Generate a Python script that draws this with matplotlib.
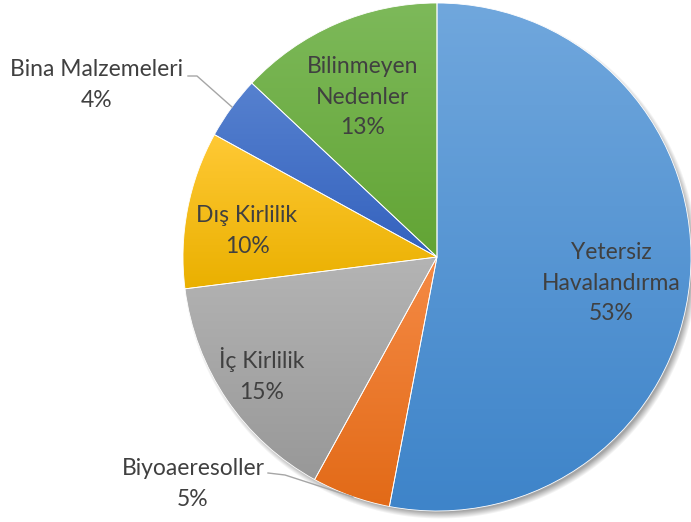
import numpy as np
import matplotlib
matplotlib.use("Agg")
import matplotlib.pyplot as plt
from matplotlib.colors import to_rgb

# ---- data ----
categories = ["Yetersiz Havalandırma", "Biyoaeresoller", "İç Kirlilik",
              "Dış Kirlilik", "Bina Malzemeleri", "Bilinmeyen Nedenler"]
values = [53, 5, 15, 10, 4, 13]
display_labels = ["Yetersiz\nHavalandırma", "Biyoaeresoller", "İç Kirlilik",
                  "Dış Kirlilik", "Bina Malzemeleri", "Bilinmeyen\nNedenler"]

# ---- style ----
top_colors = ["#70A7DD", "#F58A45", "#B4B4B4", "#FFC935", "#5681CF", "#7DB95A"]
bot_colors = ["#3E84C9", "#E26A17", "#989898", "#EAB000", "#3462BE", "#62A434"]
label_pos = [(611, 283), (193, 484), (262, 375), (247, 231), (97, 85), (363, 97)]
W, H = 691, 522
cx, cy, R = 437, 522 - 257, 254

fig = plt.figure(figsize=(W / 100, H / 100), dpi=100)
ax = fig.add_axes([0, 0, 1, 1])
ax.set_xlim(0, W)
ax.set_ylim(0, H)
ax.set_aspect("equal")
ax.axis("off")

# soft shadow
yy, xx = np.mgrid[0:H, 0:W]
d = np.hypot(xx - (cx + 3), (H - yy) - (cy - 4))
blur = 7.0
a = np.clip((R + blur / 2 - d) / blur, 0, 1) * 0.35
shadow = np.zeros((H, W, 4))
shadow[..., 3] = a
ax.imshow(shadow, extent=(0, W, 0, H), origin="upper", zorder=0.5)

wedges, _ = ax.pie(values, startangle=90, counterclock=False,
                   center=(cx, cy), radius=R, frame=True,
                   wedgeprops=dict(linewidth=0.6, edgecolor="white"))
ax.set_xlim(0, W)
ax.set_ylim(0, H)
ax.axis("off")

renderer = fig.canvas.get_renderer()
inv = ax.transData.inverted()
for w, tc, bc in zip(wedges, top_colors, bot_colors):
    w.set_facecolor("none")
    ext = w.get_window_extent(renderer=renderer)
    (x0, y0), (x1, y1) = inv.transform([[ext.x0, ext.y0], [ext.x1, ext.y1]])
    n = 256
    t = np.linspace(0, 1, n)[:, None]
    c1, c2 = np.array(to_rgb(tc)), np.array(to_rgb(bc))
    grad = (1 - t) * c1 + t * c2
    img = np.repeat(grad[:, None, :], 2, axis=1)
    im = ax.imshow(img, extent=(x0, x1, y0, y1), origin="upper",
                   aspect="auto", zorder=1)
    im.set_clip_path(w)
    w.set_zorder(2)

ax.set_xlim(0, W)
ax.set_ylim(0, H)

total = sum(values)
for lab, v, (px, py) in zip(display_labels, values, label_pos):
    ax.text(px, H - py, f"{lab}\n{round(100 * v / total)}%", ha="center",
            va="center", fontsize=16.5, family="Lato", color="#404040",
            linespacing=1.55, zorder=5)

# leader lines
ax.plot([188, 197, 232], [H - 76, H - 76, H - 107], color="#A6A6A6", lw=1.0, zorder=4)
ax.plot([268, 285, 353], [H - 473, H - 475, H - 497], color="#A6A6A6", lw=1.0, zorder=4)

fig.savefig("out.png", dpi=100)
